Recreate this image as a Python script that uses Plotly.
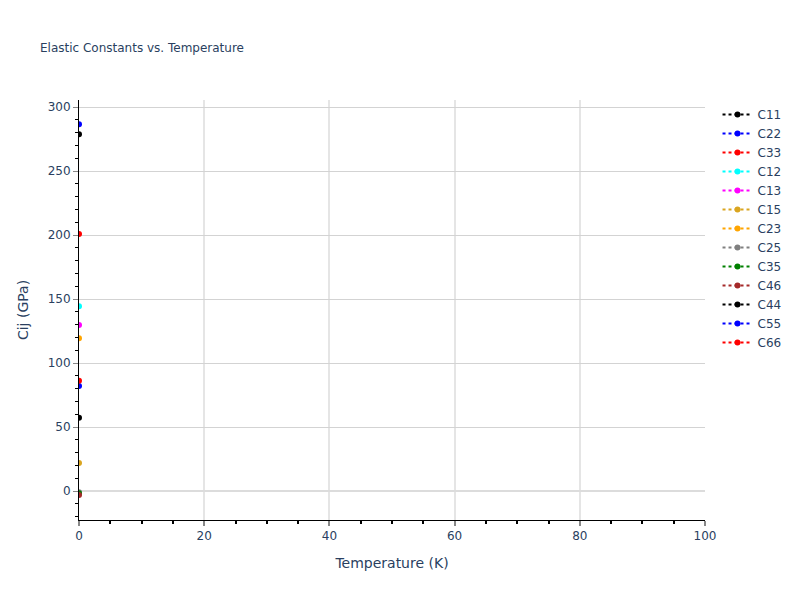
import plotly.graph_objects as go

# Elastic constants (GPa) at each temperature
temperature = [0]
names = ["C11", "C22", "C33", "C12", "C13", "C15", "C23",
         "C25", "C35", "C46", "C44", "C55", "C66"]
colors = ["black", "blue", "red", "cyan", "magenta", "goldenrod", "orange",
          "gray", "green", "brown", "black", "blue", "red"]
c11 = [278.7]
c22 = [286.5]
c33 = [200.8]
c12 = [144.3]
c13 = [129.7]
c15 = [21.9]
c23 = [119.3]
c25 = [-1.0]
c35 = [-1.8]
c46 = [-3.0]
c44 = [57.3]
c55 = [82.0]
c66 = [86.2]

values = [c11, c22, c33, c12, c13, c15, c23, c25, c35, c46, c44, c55, c66]

fig = go.Figure()
for name, col, vals in zip(names, colors, values):
    fig.add_trace(go.Scatter(
        x=temperature, y=vals,
        mode="lines+markers", name=name,
        line=dict(color=col, dash="dot"),
        marker=dict(color=col, size=6),
    ))

fig.update_layout(
    template="plotly_white",
    width=800, height=600,
    font=dict(family="Verdana, DejaVu Sans, sans-serif"),
    title=dict(text="Elastic Constants vs. Temperature", x=0.04, y=0.94,
               font=dict(size=12)),
    margin=dict(l=71, r=103, t=92, b=88),
    xaxis=dict(title="Temperature (K)", range=[0, 100], dtick=20,
               showline=True, linecolor="black", linewidth=1,
               ticks="outside", tickcolor="#888", tickwidth=2,
               showgrid=True, gridcolor="#e5e5e5", gridwidth=2,
               minor=dict(ticks="outside", dtick=5, tickcolor="black"),
               zeroline=False),
    yaxis=dict(title="Cij (GPa)", range=[-22.6, 305.5], dtick=50,
               showline=True, linecolor="black", linewidth=1,
               ticks="outside", tickcolor="#888",
               showgrid=True, gridcolor="lightgray", gridwidth=1,
               minor=dict(ticks="outside", dtick=10, tickcolor="black"),
               zeroline=True, zerolinecolor="#dcdcdc", zerolinewidth=2),
    legend=dict(x=1.02, y=1.0),
)

fig.write_html("out.html")
